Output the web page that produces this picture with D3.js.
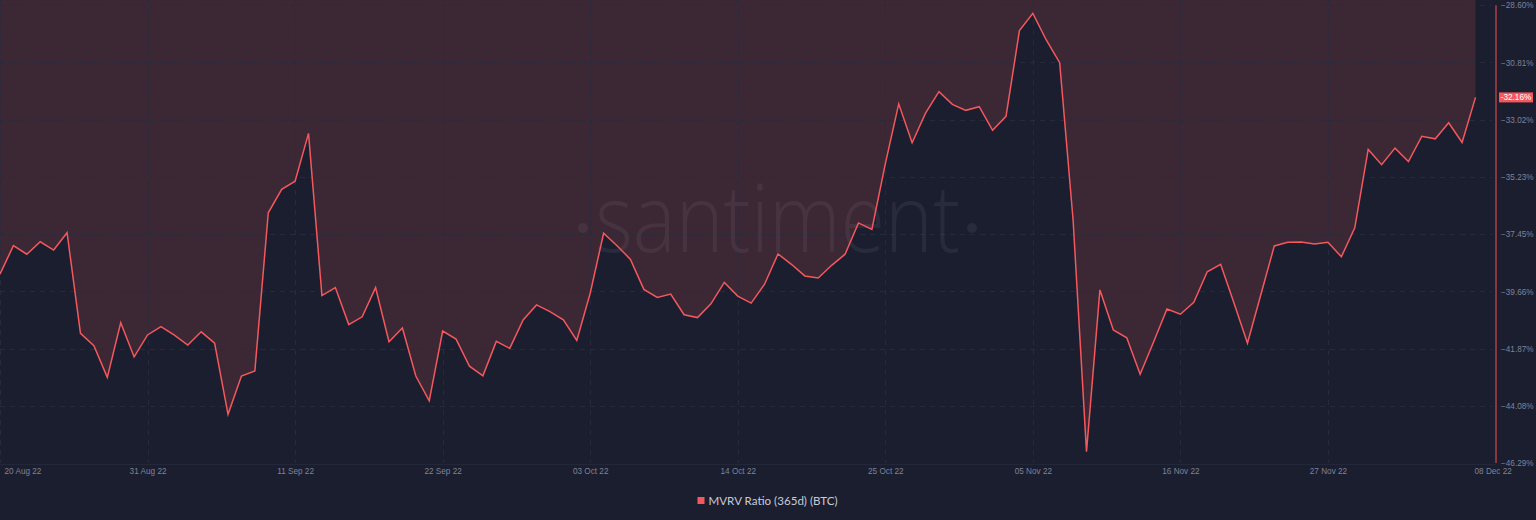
<!DOCTYPE html>
<html>
<head>
<meta charset="utf-8">
<script src="https://cdn.jsdelivr.net/npm/d3@7"></script>
<style>
  html, body { margin: 0; padding: 0; background: #1b1e2f; }
  svg { display: block; }
</style>
</head>
<body>
<svg id="chart" width="1536" height="520"></svg>
<script>
// ---- data ----
const startDate = "2022-08-20";
const mvrvValues = [
  -38.99, -37.89, -38.22, -37.74, -38.06, -37.39, -41.28, -41.76, -42.98, -40.87,
  -42.19, -41.34, -41.02, -41.35, -41.73, -41.22, -41.66, -44.41, -42.93, -42.73,
  -36.62, -35.71, -35.40, -33.55, -39.82, -39.51, -40.94, -40.64, -39.51, -41.60,
  -41.07, -42.93, -43.89, -41.19, -41.50, -42.55, -42.92, -41.59, -41.86, -40.76,
  -40.18, -40.44, -40.76, -41.55, -39.73, -37.41, -37.89, -38.42, -39.58, -39.89,
  -39.76, -40.56, -40.67, -40.14, -39.31, -39.84, -40.11, -39.38, -38.21, -38.61,
  -39.06, -39.14, -38.65, -38.22, -37.01, -37.26, -34.73, -32.41, -33.91, -32.77,
  -31.94, -32.43, -32.66, -32.52, -33.43, -32.89, -29.58, -28.91, -29.94, -30.82,
  -36.90, -45.85, -39.60, -41.15, -41.45, -42.86, -41.61, -40.34, -40.54, -40.08,
  -38.90, -38.61, -40.12, -41.66, -39.78, -37.90, -37.76, -37.75, -37.83, -37.76,
  -38.32, -37.20, -34.17, -34.76, -34.12, -34.64, -33.66, -33.76, -33.14, -33.90,
  -32.16
];
const yTickValues = [-28.60, -30.81, -33.02, -35.23, -37.45, -39.66, -41.87, -44.08, -46.29];
const xTickDates = ["2022-08-20","2022-08-31","2022-09-11","2022-09-22","2022-10-03","2022-10-14",
                    "2022-10-25","2022-11-05","2022-11-16","2022-11-27","2022-12-08"];
const xTickLabels = ["20 Aug 22","31 Aug 22","11 Sep 22","22 Sep 22","03 Oct 22","14 Oct 22",
                     "25 Oct 22","05 Nov 22","16 Nov 22","27 Nov 22","08 Dec 22"];
const seriesName = "MVRV Ratio (365d) (BTC)";
const currentLabel = "-32.16%";

// ---- setup ----
const svg = d3.select("#chart");
const parse = d3.utcParse("%Y-%m-%d");
const t0 = parse(startDate);
const data = mvrvValues.map((v, i) => ({ date: d3.utcDay.offset(t0, i), value: v }));

const plotLeft = 0, plotRight = 1475.5, plotTop = 5.3, plotBottom = 463;
const axisX = 1496;

const x = d3.scaleUtc()
  .domain([t0, d3.utcDay.offset(t0, mvrvValues.length - 1)])
  .range([plotLeft, plotRight]);
const y = d3.scaleLinear()
  .domain([-46.29, -28.60])
  .range([plotBottom, plotTop]);

const COLORS = {
  bg: "#1b1e2f",
  fillAbove: "#3c2734",
  line: "#f4585d",
  grid: "#282c3e",
  tick: "#7e8399",
  axisLine: "#8a3540",
  legend: "#c9cbd6"
};

svg.append("rect").attr("width", 1536).attr("height", 520).attr("fill", COLORS.bg);

// area above line (from line to top)
const areaAbove = d3.area()
  .x(d => x(d.date))
  .y0(0)
  .y1(d => y(d.value));
svg.append("path").datum(data).attr("d", areaAbove).attr("fill", COLORS.fillAbove);

// grid lines
const gGrid = svg.append("g");
gGrid.selectAll("line.h").data(yTickValues.slice(0, -1)).join("line")
  .attr("x1", 0).attr("x2", axisX - 4)
  .attr("y1", d => Math.round(y(d)) + 0.5).attr("y2", d => Math.round(y(d)) + 0.5)
  .attr("stroke", COLORS.grid).attr("stroke-width", 1).attr("stroke-dasharray", "5,5")
  .attr("opacity", 0.9);
gGrid.selectAll("line.v").data(xTickDates.slice(0, -1)).join("line")
  .attr("x1", d => Math.round(x(parse(d))) + 0.5).attr("x2", d => Math.round(x(parse(d))) + 0.5)
  .attr("y1", 0).attr("y2", plotBottom)
  .attr("stroke", COLORS.grid).attr("stroke-width", 1).attr("stroke-dasharray", "5,5")
  .attr("opacity", 0.9);
// bottom baseline
svg.append("line").attr("x1", 0).attr("x2", axisX).attr("y1", 464.5).attr("y2", 464.5)
  .attr("stroke", "#23273a").attr("stroke-width", 1);

// watermark
const wm = svg.append("g").attr("fill", "#ffffff").attr("fill-opacity", 0.06);
wm.append("text").attr("x", 595).attr("y", 252)
  .attr("font-family", "'Open Sans', sans-serif").attr("font-weight", 300)
  .attr("font-size", 94).attr("textLength", 365).attr("lengthAdjust", "spacingAndGlyphs")
  .text("santiment");
wm.append("circle").attr("cx", 583).attr("cy", 228).attr("r", 5);
wm.append("circle").attr("cx", 972).attr("cy", 228).attr("r", 5);

// line
const line = d3.line().x(d => x(d.date)).y(d => y(d.value));
svg.append("path").datum(data).attr("d", line)
  .attr("fill", "none").attr("stroke", COLORS.line).attr("stroke-width", 1.5)
  .attr("stroke-linejoin", "miter");

// right axis line
svg.append("line").attr("x1", axisX).attr("x2", axisX).attr("y1", plotTop).attr("y2", plotBottom)
  .attr("stroke", COLORS.axisLine).attr("stroke-width", 2);

// y axis labels
const yAxis = d3.axisRight(y).tickValues(yTickValues).tickSize(0).tickPadding(0)
  .tickFormat(d => d3.format(".2f")(d) + "%");
const gy = svg.append("g").attr("transform", `translate(${axisX + 5},0)`).call(yAxis);
gy.select(".domain").remove();
gy.selectAll("text").attr("fill", COLORS.tick).attr("font-size", 8.2)
  .attr("font-family", "'Liberation Sans', Arial, sans-serif");

// x axis labels
const xAxis = d3.axisBottom(x).tickValues(xTickDates.map(parse)).tickSize(0).tickPadding(0)
  .tickFormat((d, i) => xTickLabels[i]);
const gx = svg.append("g").attr("transform", `translate(0,${468})`).call(xAxis);
gx.select(".domain").remove();
gx.selectAll("text").attr("fill", COLORS.tick).attr("font-size", 8.2)
  .attr("font-family", "'Liberation Sans', Arial, sans-serif")
  .attr("dy", "0.71em");
const nT = xTickLabels.length;
gx.selectAll(".tick").filter((d, i) => i === 0).select("text")
  .attr("text-anchor", "start").attr("x", 4);
gx.selectAll(".tick").filter((d, i) => i === nT - 1).select("text")
  .attr("text-anchor", "start").attr("x", -1.5);

// current value label
const cy = y(mvrvValues[mvrvValues.length - 1]);
svg.append("rect").attr("x", 1499).attr("y", cy - 5).attr("width", 34).attr("height", 10)
  .attr("fill", "#f4585d");
svg.append("text").attr("x", 1516).attr("y", cy).attr("dy", "0.35em")
  .attr("text-anchor", "middle").attr("fill", "#ffffff").attr("font-size", 8.2)
  .attr("font-family", "'Liberation Sans', Arial, sans-serif").text(currentLabel);

// legend
const lg = svg.append("g").attr("transform", "translate(697.5,500.5)");
lg.append("rect").attr("x", 0).attr("y", -3.5).attr("width", 7).attr("height", 7).attr("fill", COLORS.line);
lg.append("text").attr("x", 11).attr("y", 0).attr("dy", "0.35em")
  .attr("fill", COLORS.legend).attr("font-size", 11.6)
  .attr("font-family", "Lato, 'Liberation Sans', sans-serif")
  .text(seriesName);
</script>
</body>
</html>
